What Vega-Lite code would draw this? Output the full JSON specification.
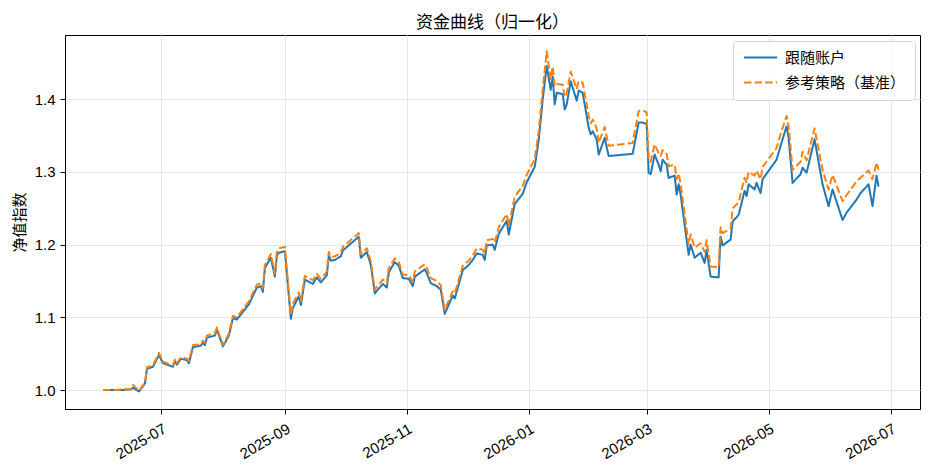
{
  "$schema": "https://vega.github.io/schema/vega-lite/v6.json",
  "description": "资金曲线（归一化）: follow account vs reference strategy, normalised",
  "width": 855,
  "height": 374,
  "autosize": {"type": "none"},
  "padding": {"left": 65, "top": 35, "right": 8, "bottom": 64},
  "background": "white",
  "title": {
    "text": "资金曲线（归一化）",
    "frame": "group",
    "anchor": "middle",
    "fontSize": 17,
    "fontWeight": "normal",
    "color": "black",
    "baseline": "bottom",
    "offset": 6,
    "dy": 20
  },
  "data": {
    "values": [
      {"date": "2025-06-02", "follow": 1.000, "bench": 1.000},
      {"date": "2025-06-05", "follow": 1.000, "bench": 1.000},
      {"date": "2025-06-09", "follow": 1.000, "bench": 1.000},
      {"date": "2025-06-12", "follow": 1.000, "bench": 1.001},
      {"date": "2025-06-16", "follow": 1.001, "bench": 1.001},
      {"date": "2025-06-17", "follow": 1.003, "bench": 1.007},
      {"date": "2025-06-20", "follow": 0.998, "bench": 0.999},
      {"date": "2025-06-23", "follow": 1.009, "bench": 1.010},
      {"date": "2025-06-24", "follow": 1.029, "bench": 1.031},
      {"date": "2025-06-27", "follow": 1.032, "bench": 1.034},
      {"date": "2025-06-30", "follow": 1.048, "bench": 1.051},
      {"date": "2025-07-02", "follow": 1.037, "bench": 1.039},
      {"date": "2025-07-07", "follow": 1.032, "bench": 1.034},
      {"date": "2025-07-08", "follow": 1.040, "bench": 1.042},
      {"date": "2025-07-09", "follow": 1.035, "bench": 1.037},
      {"date": "2025-07-11", "follow": 1.043, "bench": 1.045},
      {"date": "2025-07-14", "follow": 1.041, "bench": 1.043},
      {"date": "2025-07-15", "follow": 1.037, "bench": 1.040},
      {"date": "2025-07-17", "follow": 1.059, "bench": 1.062},
      {"date": "2025-07-21", "follow": 1.061, "bench": 1.063},
      {"date": "2025-07-22", "follow": 1.065, "bench": 1.068},
      {"date": "2025-07-23", "follow": 1.062, "bench": 1.065},
      {"date": "2025-07-24", "follow": 1.072, "bench": 1.075},
      {"date": "2025-07-28", "follow": 1.075, "bench": 1.078},
      {"date": "2025-07-29", "follow": 1.083, "bench": 1.086},
      {"date": "2025-08-01", "follow": 1.060, "bench": 1.062},
      {"date": "2025-08-04", "follow": 1.075, "bench": 1.078},
      {"date": "2025-08-06", "follow": 1.099, "bench": 1.102},
      {"date": "2025-08-08", "follow": 1.097, "bench": 1.100},
      {"date": "2025-08-12", "follow": 1.111, "bench": 1.115},
      {"date": "2025-08-14", "follow": 1.118, "bench": 1.122},
      {"date": "2025-08-18", "follow": 1.141, "bench": 1.145},
      {"date": "2025-08-20", "follow": 1.143, "bench": 1.147},
      {"date": "2025-08-21", "follow": 1.135, "bench": 1.140},
      {"date": "2025-08-22", "follow": 1.168, "bench": 1.172},
      {"date": "2025-08-25", "follow": 1.182, "bench": 1.187},
      {"date": "2025-08-27", "follow": 1.156, "bench": 1.160},
      {"date": "2025-08-28", "follow": 1.185, "bench": 1.190},
      {"date": "2025-08-29", "follow": 1.189, "bench": 1.195},
      {"date": "2025-09-01", "follow": 1.191, "bench": 1.197},
      {"date": "2025-09-04", "follow": 1.098, "bench": 1.104},
      {"date": "2025-09-05", "follow": 1.113, "bench": 1.119},
      {"date": "2025-09-08", "follow": 1.129, "bench": 1.134},
      {"date": "2025-09-09", "follow": 1.117, "bench": 1.122},
      {"date": "2025-09-11", "follow": 1.152, "bench": 1.157},
      {"date": "2025-09-15", "follow": 1.146, "bench": 1.151},
      {"date": "2025-09-17", "follow": 1.155, "bench": 1.160},
      {"date": "2025-09-19", "follow": 1.148, "bench": 1.153},
      {"date": "2025-09-22", "follow": 1.158, "bench": 1.163},
      {"date": "2025-09-23", "follow": 1.185, "bench": 1.190},
      {"date": "2025-09-24", "follow": 1.178, "bench": 1.183},
      {"date": "2025-09-26", "follow": 1.179, "bench": 1.184},
      {"date": "2025-09-29", "follow": 1.184, "bench": 1.189},
      {"date": "2025-09-30", "follow": 1.192, "bench": 1.197},
      {"date": "2025-10-08", "follow": 1.211, "bench": 1.216},
      {"date": "2025-10-09", "follow": 1.182, "bench": 1.187},
      {"date": "2025-10-12", "follow": 1.190, "bench": 1.195},
      {"date": "2025-10-14", "follow": 1.172, "bench": 1.177},
      {"date": "2025-10-16", "follow": 1.133, "bench": 1.138},
      {"date": "2025-10-20", "follow": 1.146, "bench": 1.152},
      {"date": "2025-10-22", "follow": 1.141, "bench": 1.147},
      {"date": "2025-10-23", "follow": 1.162, "bench": 1.168},
      {"date": "2025-10-26", "follow": 1.176, "bench": 1.181},
      {"date": "2025-10-28", "follow": 1.171, "bench": 1.176},
      {"date": "2025-10-30", "follow": 1.154, "bench": 1.159},
      {"date": "2025-11-02", "follow": 1.153, "bench": 1.158},
      {"date": "2025-11-04", "follow": 1.143, "bench": 1.149},
      {"date": "2025-11-05", "follow": 1.156, "bench": 1.163},
      {"date": "2025-11-10", "follow": 1.166, "bench": 1.173},
      {"date": "2025-11-11", "follow": 1.161, "bench": 1.168},
      {"date": "2025-11-13", "follow": 1.147, "bench": 1.154},
      {"date": "2025-11-16", "follow": 1.143, "bench": 1.150},
      {"date": "2025-11-18", "follow": 1.138, "bench": 1.144},
      {"date": "2025-11-20", "follow": 1.105, "bench": 1.110},
      {"date": "2025-11-24", "follow": 1.130, "bench": 1.136},
      {"date": "2025-11-25", "follow": 1.126, "bench": 1.133},
      {"date": "2025-11-29", "follow": 1.165, "bench": 1.171},
      {"date": "2025-12-02", "follow": 1.172, "bench": 1.178},
      {"date": "2025-12-04", "follow": 1.179, "bench": 1.185},
      {"date": "2025-12-06", "follow": 1.188, "bench": 1.195},
      {"date": "2025-12-09", "follow": 1.186, "bench": 1.193},
      {"date": "2025-12-10", "follow": 1.179, "bench": 1.188},
      {"date": "2025-12-11", "follow": 1.199, "bench": 1.206},
      {"date": "2025-12-14", "follow": 1.200, "bench": 1.208},
      {"date": "2025-12-15", "follow": 1.193, "bench": 1.203},
      {"date": "2025-12-17", "follow": 1.215, "bench": 1.224},
      {"date": "2025-12-21", "follow": 1.233, "bench": 1.242},
      {"date": "2025-12-22", "follow": 1.214, "bench": 1.226},
      {"date": "2025-12-25", "follow": 1.256, "bench": 1.266},
      {"date": "2025-12-29", "follow": 1.270, "bench": 1.281},
      {"date": "2025-12-31", "follow": 1.286, "bench": 1.296},
      {"date": "2026-01-04", "follow": 1.307, "bench": 1.318},
      {"date": "2026-01-06", "follow": 1.344, "bench": 1.356},
      {"date": "2026-01-08", "follow": 1.400, "bench": 1.414},
      {"date": "2026-01-10", "follow": 1.446, "bench": 1.466},
      {"date": "2026-01-12", "follow": 1.413, "bench": 1.428},
      {"date": "2026-01-13", "follow": 1.431, "bench": 1.445},
      {"date": "2026-01-14", "follow": 1.393, "bench": 1.418},
      {"date": "2026-01-15", "follow": 1.409, "bench": 1.421},
      {"date": "2026-01-18", "follow": 1.407, "bench": 1.420},
      {"date": "2026-01-19", "follow": 1.386, "bench": 1.403},
      {"date": "2026-01-20", "follow": 1.393, "bench": 1.408},
      {"date": "2026-01-22", "follow": 1.425, "bench": 1.438},
      {"date": "2026-01-25", "follow": 1.398, "bench": 1.414},
      {"date": "2026-01-26", "follow": 1.412, "bench": 1.425},
      {"date": "2026-01-28", "follow": 1.409, "bench": 1.423},
      {"date": "2026-01-31", "follow": 1.361, "bench": 1.377},
      {"date": "2026-02-01", "follow": 1.352, "bench": 1.367},
      {"date": "2026-02-02", "follow": 1.356, "bench": 1.372},
      {"date": "2026-02-04", "follow": 1.345, "bench": 1.360},
      {"date": "2026-02-05", "follow": 1.324, "bench": 1.340},
      {"date": "2026-02-08", "follow": 1.347, "bench": 1.362},
      {"date": "2026-02-10", "follow": 1.322, "bench": 1.336},
      {"date": "2026-02-22", "follow": 1.325, "bench": 1.340},
      {"date": "2026-02-25", "follow": 1.368, "bench": 1.384},
      {"date": "2026-02-27", "follow": 1.368, "bench": 1.385},
      {"date": "2026-03-01", "follow": 1.366, "bench": 1.382},
      {"date": "2026-03-02", "follow": 1.299, "bench": 1.318},
      {"date": "2026-03-03", "follow": 1.297, "bench": 1.314},
      {"date": "2026-03-05", "follow": 1.324, "bench": 1.338},
      {"date": "2026-03-07", "follow": 1.310, "bench": 1.326},
      {"date": "2026-03-08", "follow": 1.301, "bench": 1.322},
      {"date": "2026-03-09", "follow": 1.317, "bench": 1.330},
      {"date": "2026-03-11", "follow": 1.310, "bench": 1.325},
      {"date": "2026-03-12", "follow": 1.292, "bench": 1.308},
      {"date": "2026-03-15", "follow": 1.295, "bench": 1.310},
      {"date": "2026-03-16", "follow": 1.269, "bench": 1.290},
      {"date": "2026-03-17", "follow": 1.283, "bench": 1.298},
      {"date": "2026-03-18", "follow": 1.269, "bench": 1.284},
      {"date": "2026-03-22", "follow": 1.186, "bench": 1.200},
      {"date": "2026-03-23", "follow": 1.200, "bench": 1.214},
      {"date": "2026-03-25", "follow": 1.182, "bench": 1.196},
      {"date": "2026-03-28", "follow": 1.189, "bench": 1.202},
      {"date": "2026-03-30", "follow": 1.175, "bench": 1.190},
      {"date": "2026-03-31", "follow": 1.193, "bench": 1.206},
      {"date": "2026-04-02", "follow": 1.156, "bench": 1.170},
      {"date": "2026-04-06", "follow": 1.155, "bench": 1.169},
      {"date": "2026-04-07", "follow": 1.211, "bench": 1.224},
      {"date": "2026-04-08", "follow": 1.199, "bench": 1.216},
      {"date": "2026-04-12", "follow": 1.207, "bench": 1.222},
      {"date": "2026-04-13", "follow": 1.232, "bench": 1.250},
      {"date": "2026-04-16", "follow": 1.241, "bench": 1.258},
      {"date": "2026-04-19", "follow": 1.274, "bench": 1.292},
      {"date": "2026-04-20", "follow": 1.267, "bench": 1.285},
      {"date": "2026-04-21", "follow": 1.283, "bench": 1.300},
      {"date": "2026-04-24", "follow": 1.276, "bench": 1.295},
      {"date": "2026-04-25", "follow": 1.285, "bench": 1.302},
      {"date": "2026-04-27", "follow": 1.271, "bench": 1.290},
      {"date": "2026-04-28", "follow": 1.290, "bench": 1.307},
      {"date": "2026-05-05", "follow": 1.317, "bench": 1.333},
      {"date": "2026-05-07", "follow": 1.336, "bench": 1.352},
      {"date": "2026-05-10", "follow": 1.363, "bench": 1.377},
      {"date": "2026-05-11", "follow": 1.347, "bench": 1.364},
      {"date": "2026-05-13", "follow": 1.285, "bench": 1.303},
      {"date": "2026-05-17", "follow": 1.297, "bench": 1.314},
      {"date": "2026-05-18", "follow": 1.306, "bench": 1.328},
      {"date": "2026-05-20", "follow": 1.299, "bench": 1.316},
      {"date": "2026-05-24", "follow": 1.345, "bench": 1.360},
      {"date": "2026-05-28", "follow": 1.283, "bench": 1.303},
      {"date": "2026-05-31", "follow": 1.253, "bench": 1.276},
      {"date": "2026-06-02", "follow": 1.276, "bench": 1.296},
      {"date": "2026-06-07", "follow": 1.234, "bench": 1.260},
      {"date": "2026-06-09", "follow": 1.244, "bench": 1.268},
      {"date": "2026-06-14", "follow": 1.262, "bench": 1.287},
      {"date": "2026-06-16", "follow": 1.271, "bench": 1.292},
      {"date": "2026-06-20", "follow": 1.283, "bench": 1.302},
      {"date": "2026-06-22", "follow": 1.253, "bench": 1.290},
      {"date": "2026-06-24", "follow": 1.295, "bench": 1.313},
      {"date": "2026-06-25", "follow": 1.280, "bench": 1.303}
    ]
  },
  "transform": [{"fold": ["follow", "bench"], "as": ["series", "value"]}],
  "mark": {"type": "line", "strokeWidth": 2, "strokeJoin": "round", "strokeCap": "butt"},
  "encoding": {
    "x": {
      "field": "date",
      "type": "temporal",
      "scale": {
        "type": "utc",
        "domain": [
          {"year": 2025, "month": 5, "date": 14, "utc": true},
          {"year": 2026, "month": 7, "date": 15, "hours": 18, "utc": true}
        ]
      },
      "axis": {
        "title": null,
        "format": "%Y-%m",
        "values": [
          {"year": 2025, "month": 7, "date": 1, "utc": true},
          {"year": 2025, "month": 9, "date": 1, "utc": true},
          {"year": 2025, "month": 11, "date": 1, "utc": true},
          {"year": 2026, "month": 1, "date": 1, "utc": true},
          {"year": 2026, "month": 3, "date": 1, "utc": true},
          {"year": 2026, "month": 5, "date": 1, "utc": true},
          {"year": 2026, "month": 7, "date": 1, "utc": true}
        ],
        "labelAngle": -30,
        "labelAlign": "right",
        "labelBaseline": "top",
        "labelPadding": 7,
        "labelDx": -4
      }
    },
    "y": {
      "field": "value",
      "type": "quantitative",
      "scale": {"domain": [0.9739, 1.4885], "zero": false, "nice": false},
      "axis": {
        "title": "净值指数",
        "values": [1.0, 1.1, 1.2, 1.3, 1.4],
        "format": ".1f",
        "labelPadding": 5,
        "titlePadding": 7
      }
    },
    "color": {
      "field": "series",
      "type": "nominal",
      "scale": {"domain": ["follow", "bench"], "range": ["#1f77b4", "#ff7f0e"]},
      "legend": {
        "title": null,
        "orient": "none",
        "legendX": 668,
        "legendY": 6,
        "labelExpr": "datum.label == 'follow' ? '跟随账户' : '参考策略（基准）'",
        "symbolType": "M-1,0H5",
        "symbolSize": 121,
        "symbolStrokeWidth": 2,
        "labelOffset": 28,
        "rowPadding": 9,
        "padding": 9,
        "fillColor": "rgba(255,255,255,0.8)",
        "strokeColor": "#d4d4d4",
        "cornerRadius": 3
      }
    },
    "strokeDash": {
      "field": "series",
      "type": "nominal",
      "scale": {"domain": ["follow", "bench"], "range": [[1, 0], [7.4, 3.2]]},
      "legend": {
        "title": null,
        "labelExpr": "datum.label == 'follow' ? '跟随账户' : '参考策略（基准）'"
      }
    }
  },
  "config": {
    "font": "Liberation Sans, Noto Sans CJK SC, sans-serif",
    "view": {"stroke": "black", "strokeWidth": 1},
    "axis": {
      "domainColor": "black",
      "domainWidth": 1,
      "tickColor": "black",
      "tickSize": 5,
      "labelFontSize": 15,
      "labelColor": "black",
      "titleFontSize": 15,
      "titleFontWeight": "normal",
      "titleColor": "black",
      "gridColor": "#e6e6e6",
      "gridWidth": 1
    },
    "legend": {
      "labelFontSize": 15,
      "labelColor": "black",
      "labelLimit": 300
    }
  }
}
